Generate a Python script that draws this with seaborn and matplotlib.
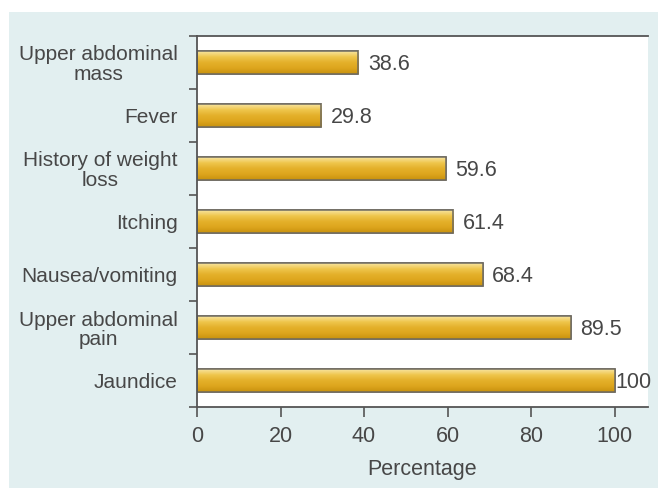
import numpy as np
import pandas as pd
import matplotlib
matplotlib.use("Agg")
import matplotlib.pyplot as plt
from matplotlib.patches import Rectangle
from matplotlib.colors import LinearSegmentedColormap
import seaborn as sns

symptoms = [
    "Upper abdominal\nmass",
    "Fever",
    "History of weight\nloss",
    "Itching",
    "Nausea/vomiting",
    "Upper abdominal\npain",
    "Jaundice",
]
percentages = [38.6, 29.8, 59.6, 61.4, 68.4, 89.5, 100]
value_labels = ["38.6", "29.8", "59.6", "61.4", "68.4", "89.5", "100"]
x_ticks = [0, 20, 40, 60, 80, 100]

df = pd.DataFrame({"symptom": symptoms, "pct": percentages})

sns.set_theme(style="white")
plt.rcParams["font.family"] = ["Liberation Sans", "DejaVu Sans"]

fig = plt.figure(figsize=(6.58, 4.88), dpi=100)
fig.patch.set_facecolor("white")
# light panel behind the chart
fig.patches.append(Rectangle((9 / 658, 0), 1, 1 - 12 / 488, transform=fig.transFigure,
                             facecolor="#e2eff0", edgecolor="none", zorder=-5))

ax = fig.add_axes([197 / 658, 1 - 407 / 488, (648 - 197) / 658, (407 - 36) / 488])
ax.set_zorder(2)
ax.set_facecolor("white")

sns.barplot(data=df, x="pct", y="symptom", orient="h", width=0.42,
            color="#e0ae25", edgecolor="#6e6a60", linewidth=1.1, ax=ax)

# glossy gold shading inside each bar
gold = LinearSegmentedColormap.from_list(
    "gold", ["#f8e4a0", "#efc64c", "#e4b02a", "#dda51d", "#c8920e"])
grad = np.linspace(0, 1, 64).reshape(-1, 1)
for p in list(ax.patches):
    x0, y0 = p.get_x(), p.get_y()
    w, h = p.get_width(), p.get_height()
    im = ax.imshow(grad, cmap=gold, aspect="auto", extent=(x0, x0 + w, y0 + h, y0),
                   zorder=p.get_zorder() + 0.1, interpolation="bilinear")
    im.set_clip_path(p)
    edge = Rectangle((x0, y0), w, h, facecolor="none", edgecolor="#6e6a60",
                     linewidth=1.1, zorder=p.get_zorder() + 0.2)
    ax.add_patch(edge)

for i, (v, lab) in enumerate(zip(percentages, value_labels)):
    ax.text(v + 2.3 if v < 100 else v + 0.2, i + 0.03, lab, va="center", ha="left",
            fontsize=15.5, color="#474747")

ax.set_xlim(0, 108)
ax.set_ylim(6.5, -0.5)
ax.set_xticks(x_ticks)
ax.set_xticklabels([str(t) for t in x_ticks])
ax.set_yticks(range(len(symptoms)))
ax.set_yticklabels(symptoms, linespacing=1.05)
ax.set_yticks(np.arange(-0.5, len(symptoms), 1.0), minor=True)

ax.tick_params(left=True, bottom=True, which="both")
ax.tick_params(axis="y", which="major", length=0, pad=14, labelsize=15, labelcolor="#474747")
ax.tick_params(axis="y", which="minor", length=6, width=1.2, color="#555555", direction="out")
ax.tick_params(axis="x", which="major", length=7, width=1.2, color="#555555",
               direction="out", labelsize=15.5, labelcolor="#474747", pad=7)
for lab in ax.get_yticklabels():
    lab.set_multialignment("center")

ax.set_xlabel("Percentage", fontsize=15.5, color="#474747", labelpad=8)
ax.set_ylabel("")

for side in ["left", "bottom", "top"]:
    ax.spines[side].set_visible(True)
    ax.spines[side].set_color("#555555")
    ax.spines[side].set_linewidth(1.3)
ax.spines["right"].set_visible(False)

fig.savefig("out.png", dpi=100, facecolor=fig.get_facecolor())
